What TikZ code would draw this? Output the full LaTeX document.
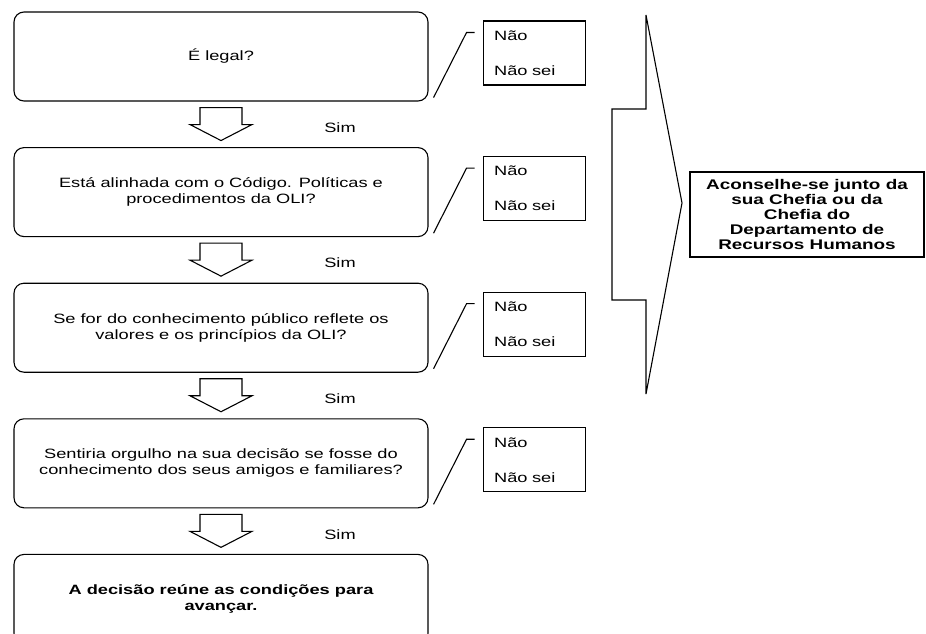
\documentclass[tikz,border=0pt]{standalone}
\usepackage{fontspec}
\setmainfont{Liberation Sans}[FakeStretch=1.35]
\usetikzlibrary{positioning}

\tikzset{
	question/.style = {draw, rounded corners = 10pt, minimum width = 414pt,
		minimum height = 89pt, align = center, inner sep = 0pt},
	answers/.style = {draw, minimum width = 102pt, minimum height = 64pt,
		text width = 80pt, inner xsep = 11pt, align = left},
	advice/.style = {draw, minimum width = 234pt, minimum height = 85pt,
		align = center, inner sep = 0pt, font = \fontsize{14}{15}\selectfont\bfseries}
}

% Hollow arrow below a question box
\newcommand{\simarrow}[1]{%
	\draw ([shift = {(-21, 6)}] #1.south) -- ++(0, 17) -- ++(-10, 0) -- ++(31, 16)
		-- ++(31, -16) -- ++(-10, 0) -- ++(0, -17) -- cycle;}

\begin{document}
\begin{tikzpicture}[x = 1pt, y = -1pt, line width = 1.1pt,
	font = \fontsize{13.5}{16}\selectfont, node distance = 45.5pt]

	\useasboundingbox (0, 0) rectangle (926, 633);
	\clip (0, 0) rectangle (926, 633);

	% The questions

	\node [question] (q1) at (221, 56.5) {É legal?};
	\node [question, below = of q1] (q2) {Está alinhada com o Código. Políticas e\\procedimentos da OLI?};
	\node [question, below = of q2] (q3) {Se for do conhecimento público reflete os\\valores e os princípios da OLI?};
	\node [question, below = of q3] (q4) {Sentiria orgulho na sua decisão se fosse do\\conhecimento dos seus amigos e familiares?};
	\node [question, below = of q4, font = \fontsize{13.5}{16}\selectfont\bfseries] (q5) {A decisão reúne as condições para\\avançar.};

	% Arrows, answers and callouts

	\foreach \i in {1, 2, 3, 4} {
		\simarrow{q\i}
		\node (sim\i) at ([shift = {(119, 26)}] q\i.south) {Sim};
		\node [answers, right = 54pt of q\i, yshift = 3.5pt] (n\i) {Não\\[19pt]Não sei};
		\draw ([shift = {(5, -4)}] q\i.south east) -- ([shift = {(-16, 12)}] n\i.north west)
			-- ([shift = {(-8, 12)}] n\i.north west);
	}

	% Big bracket arrow

	\draw (646, 15) -- (682, 203) -- (646, 394) -- (646, 300) -- (612, 300)
		-- (612, 109) -- (646, 109) -- cycle;

	\node [advice] (help) at (807, 214.5) {Aconselhe-se junto da\\sua Chefia ou da\\Chefia do\\Departamento de\\Recursos Humanos};

\end{tikzpicture}
\end{document}
